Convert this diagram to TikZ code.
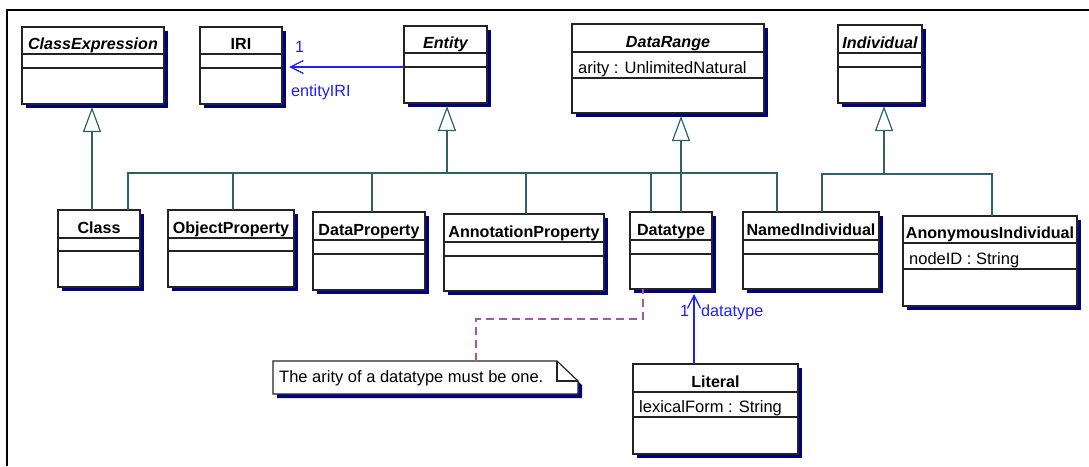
\documentclass[tikz,border=0pt]{standalone}
\usepackage{fontspec}
\setmainfont{Liberation Sans}
\usetikzlibrary{arrows.meta}

\definecolor{umlnavy}{RGB}{0,0,128}
\definecolor{treeteal}{RGB}{47,99,99}
\definecolor{assocblue}{RGB}{30,30,255}
\definecolor{notepurple}{RGB}{165,85,170}
\definecolor{boxline}{RGB}{35,35,35}

% UML class box: name, left, top, right, bottom, first rule, second rule, title, attribute
\newcommand\umlclass[9]{%
  \fill[umlshadow] (#2+4,#3+4) rectangle (#4+4,#5+4);
  \node[umlbox, minimum width={(#4-#2)*1pt}, minimum height={(#5-#3)*1pt},
        anchor=north west] (#1) at (#2,#3) {};
  \draw[umlrule] (#2,#6) -- (#4,#6) (#2,#7) -- (#4,#7);
  \node[umltitle] at ({(#2+#4)/2},#6-5) {#8};
  \node[umlattr] at (#2+6,#7-4.5) {#9};
}

\begin{document}
\begin{tikzpicture}[x=1pt,y=-1pt,
  umlshadow/.style={fill=umlnavy},
  umlbox/.style={draw=boxline, line width=1.2pt, fill=white, inner sep=0pt, outer sep=0pt},
  umlrule/.style={draw=boxline, line width=1.2pt},
  umltitle/.style={anchor=base, inner sep=0pt, font=\fontsize{16.1}{18}\selectfont\bfseries},
  umlattr/.style={anchor=base west, inner sep=0pt, font=\fontsize{16.5}{18}\selectfont},
  tree/.style={draw=treeteal, line width=1.2pt},
  gen/.style={tree, -{Triangle[open, length=25pt, width=18pt, line width=1.2pt]}},
  assoc/.style={draw=assocblue, line width=1.3pt, -{Straight Barb[length=13pt, width=13pt, line width=1.3pt]}},
  assoclabel/.style={anchor=base west, inner sep=0pt, text=assocblue, font=\fontsize{16.2}{18}\selectfont},
  notelink/.style={draw=notepurple, line width=1.5pt, dash pattern=on 8pt off 5pt},
  notetext/.style={anchor=base west, inner sep=0pt, font=\fontsize{16.5}{18}\selectfont}]

\useasboundingbox (0,0) rectangle (1089,466);

% frame edges
\draw[line width=2pt, black] (7,466) -- (7,10) -- (1089,10);

% upper row
\umlclass{ClassExpression}{22}{27}{164}{104}{54}{68}{\itshape ClassExpression}{}
\umlclass{IRI}{200}{27}{282}{104}{54}{68}{IRI}{}
\umlclass{Entity}{404}{26}{487}{103}{53}{67}{\itshape Entity}{}
\umlclass{DataRange}{572}{24}{764}{113}{52}{78}{\itshape DataRange}{arity : UnlimitedNatural}
\umlclass{Individual}{838}{25}{922}{103}{53}{67}{\itshape Individual}{}

% middle row
\umlclass{Class}{58}{210}{140}{287}{238}{251}{Class}{}
\umlclass{ObjectProperty}{168}{210}{294}{287}{238}{251}{ObjectProperty}{}
\umlclass{DataProperty}{313}{212}{425}{290}{240}{254}{DataProperty}{}
\umlclass{AnnotationProperty}{444}{214}{604}{291}{242}{256}{AnnotationProperty}{}
\umlclass{Datatype}{630}{212}{712}{289}{240}{254}{Datatype}{}
\umlclass{NamedIndividual}{743}{212}{879}{289}{240}{254}{NamedIndividual}{}
\umlclass{AnonymousIndividual}{903}{216}{1077}{306}{243}{269}{AnonymousIndividual}{nodeID : String}

% lower row
\umlclass{Literal}{633}{364}{798}{454}{392}{417}{Literal}{lexicalForm : String}

% note with folded corner
\node[inner sep=0pt, minimum width=305pt, minimum height=33pt, anchor=north west] (note) at (273,361) {};
\fill[umlnavy] (277,365) -- (561,365) -- (582,385) -- (582,398) -- (277,398) -- cycle;
\draw[boxline, line width=1.2pt, fill=white] (273,361) -- (557,361) -- (578,381) -- (578,394) -- (273,394) -- cycle;
\draw[boxline, line width=1.2pt] (557,361) -- (557,381) -- (578,381);
\node[notetext] at (279,382) {The arity of a datatype must be one.};

% generalizations
\coordinate (entbar) at (447,173);
\coordinate (indbar) at (884,174);
\draw[gen] (Class.north -| 92,0) -- (92,107);
\draw[gen] (entbar) -- (447,106);
\draw[gen] (Datatype.north -| 681,0) -- (681,116);
\draw[gen] (indbar) -- (884,106);

\draw[tree] (Class.north -| 128,0) -- (128,173) -- (777,173) -- (NamedIndividual.north -| 777,0);
\draw[tree] (ObjectProperty.north -| 233,0) -- (233,173);
\draw[tree] (DataProperty.north -| 372,0) -- (372,173);
\draw[tree] (AnnotationProperty.north -| 526,0) -- (526,173);
\draw[tree] (Datatype.north -| 651,0) -- (651,173);

\draw[tree] (NamedIndividual.north -| 822,0) -- (822,174) -- (992,174) -- (AnonymousIndividual.north -| 992,0);

% associations
\draw[assoc] (Entity.west |- 0,67) -- (289,67);
\node[assoclabel] at (295,52) {1};
\node[assoclabel] at (291,96) {entityIRI};

\draw[assoc] (Literal.north -| 694,0) -- (694,294);
\node[assoclabel] at (680,316) {1};
\node[assoclabel] at (701,316) {datatype};

% note anchor
\draw[notelink] (note.north -| 476,0) -- (476,319) -- (643,319) -- (Datatype.south -| 643,0);

\end{tikzpicture}
\end{document}
